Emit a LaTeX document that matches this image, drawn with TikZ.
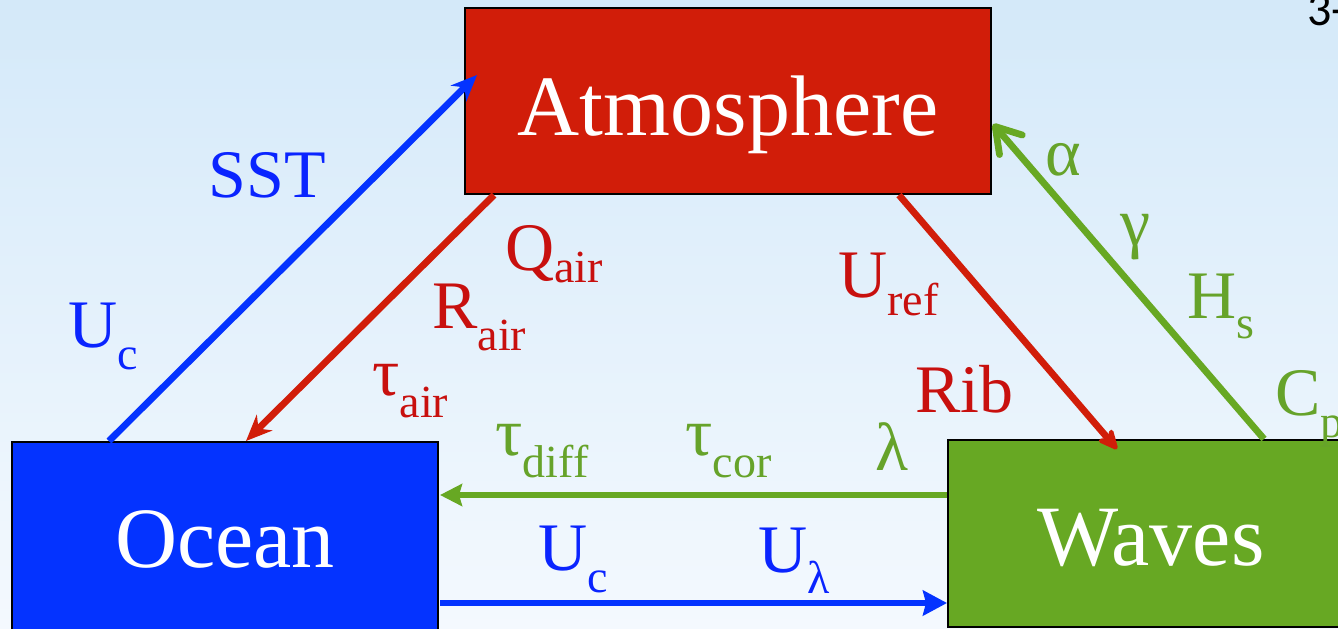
\documentclass[tikz,border=0pt]{standalone}
\usepackage{fontspec}
\setmainfont{Liberation Serif}
\newfontfamily\digitfont{Carlito}
\usetikzlibrary{arrows.meta,calc}
\definecolor{atmred}{HTML}{D11D09}
\definecolor{labred}{HTML}{C8100E}
\definecolor{oceanblue}{HTML}{0433FF}
\definecolor{labblue}{HTML}{0A24FF}
\definecolor{wavegreen}{HTML}{67A823}
\definecolor{labgreen}{HTML}{66A32A}
\definecolor{bgtop}{HTML}{D4E9F9}
\definecolor{bgbot}{HTML}{F4F9FE}
\newcommand\lsub[2][11pt]{\raisebox{-#1}{\fontsize{23}{23}\selectfont #2}}
\begin{document}
\begin{tikzpicture}[x=0.5pt,y=-0.5pt,
  box/.style={draw=black,line width=1pt,text=white,font=\fontsize{43}{43}\selectfont,inner sep=0pt,text depth=0pt},
  lab/.style={anchor=base west,inner sep=0pt,font=\fontsize{34}{34}\selectfont},
  conn/.style={line width=3.4pt},
  ]
\useasboundingbox (0,0) rectangle (1338,628);
\shade[top color=bgtop,bottom color=bgbot] (0,0) rectangle (1338,628);

\node[box,fill=atmred,minimum width=263pt,minimum height=93pt,text height=34pt] (atm) at (728,101) {Atmosphere};
\node[box,fill=oceanblue,minimum width=213pt,minimum height=94pt,text height=31pt] (ocean) at (225,536) {Ocean};
\node[box,fill=wavegreen,minimum width=203pt,minimum height=93.5pt,text height=31.5pt] (waves) at (1151,533.5) {Waves};

% connectors
\draw[conn,oceanblue,-{Stealth[length=13pt,width=11pt]}] ($(ocean.north west)+(98,0)$) -- ($(atm.north west)+(13,68)$);
\draw[conn,atmred,-{Stealth[length=13pt,width=11pt]}] ($(atm.south west)+(30,0)$) -- ($(ocean.north west)+(235,0)$);
\draw[conn,atmred,-{Stealth[length=13pt,width=12pt,round]}] ($(atm.south west)+(435,0)$) -- ($(waves.north west)+(170,10)$);
\draw[conn,wavegreen,-{Straight Barb[length=12pt,width=15pt,round]}] ($(waves.north west)+(317,0)$) -- ($(atm.north east)+(1,117)$);
\draw[conn,wavegreen,-{Stealth[length=11pt,width=11pt,inset=1.5pt]}] ($(waves.north west)+(0,56)$) -- ($(ocean.north east)+(1,54)$);
\draw[conn,oceanblue,-{Stealth[length=12pt,width=12.5pt,inset=1.5pt]}] ($(ocean.north east)+(1,162)$) -- ($(waves.north west)+(0,164)$);

% labels
\node[lab,text=labblue] (sst) at (208,197) {SST};
\node[lab,text=labblue] (uc1) at (68,347) {U\lsub{c}};
\node[lab,text=labred] (qair) at (505,270) {Q\lsub[6pt]{air}};
\node[lab,text=labred] (rair) at (432,328) {R\lsub{air}};
\node[lab,text=labred] (tauair) at (372,395) {τ\lsub{air}};
\node[lab,text=labred] (uref) at (838,297) {U\lsub[9pt]{ref}};
\node[lab,text=labred] (rib) at (915,412) {Rib};
\node[lab,text=labgreen] (alpha) at (1045,175) {α};
\node[lab,text=labgreen] (gamma) at (1120,245) {γ};
\node[lab,text=labgreen] (hs) at (1187,318) {H\lsub[10pt]{s}};
\node[lab,text=labgreen] (cp) at (1275,415) {C\lsub{p}};
\node[lab,text=labgreen] (taud) at (495,455) {τ\lsub{diff}};
\node[lab,text=labgreen] (tauc) at (685,455) {τ\lsub{cor}};
\node[lab,text=labgreen] (lam) at (875,470) {λ};
\node[lab,text=labblue] (uc2) at (538,570) {U\lsub{c}};
\node[lab,text=labblue] (ul) at (758,572) {U\lsub[10.5pt]{λ}};
\node[anchor=base west,inner sep=0pt,font=\digitfont\fontsize{24}{24}\selectfont] (pg) at (1307,25) {3-};
\end{tikzpicture}
\end{document}
